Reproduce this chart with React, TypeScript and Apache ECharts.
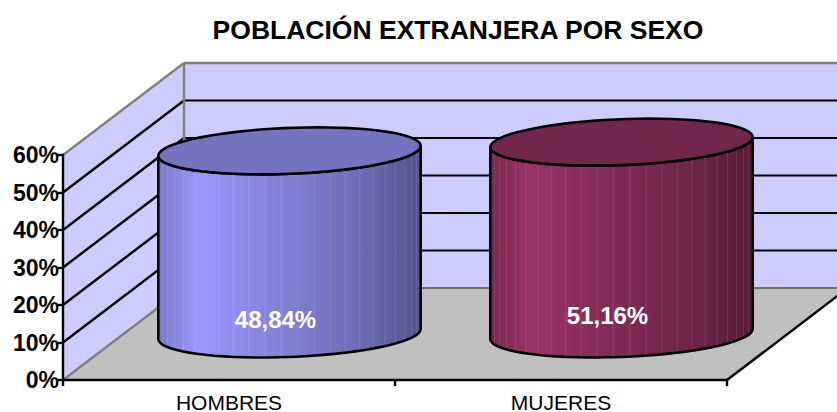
import React, { useEffect, useRef } from "react";
import * as echarts from "echarts";

const titleText = "POBLACIÓN EXTRANJERA POR SEXO";
const categories = ["HOMBRES", "MUJERES"];
const values = [48.84, 51.16];
const yTicks = [0, 10, 20, 30, 40, 50, 60];
const baseColors = ["#9999FF", "#993366"];

const FONT = "Liberation Sans, Arial, sans-serif";
const DEPTH_X = 121;
const DEPTH_Y = -92;

function shade(hex: string, f: number) {
  const n = parseInt(hex.slice(1), 16);
  const c = (v: number) => Math.round(v * f);
  return `rgb(${c((n >> 16) & 255)},${c((n >> 8) & 255)},${c(n & 255)})`;
}

function renderScene(params: any, api: any) {
  const cs = params.coordSys;
  const L = cs.x, R = cs.x + cs.width, B = cs.y + cs.height, T = cs.y;
  const poly = (points: number[][], fill: string) => ({ type: "polygon", shape: { points }, style: { fill, stroke: "none" } });
  const line = (a: number[], b: number[], stroke: string, lineWidth: number) => ({
    type: "line",
    shape: { x1: a[0], y1: a[1], x2: b[0], y2: b[1] },
    style: { stroke, lineWidth, fill: "none" },
  });
  const children: any[] = [
    poly([[L + DEPTH_X, T + DEPTH_Y], [R + DEPTH_X, T + DEPTH_Y], [R + DEPTH_X, B + DEPTH_Y], [L + DEPTH_X, B + DEPTH_Y]], "#CCCCFF"),
    poly([[L, T], [L + DEPTH_X, T + DEPTH_Y], [L + DEPTH_X, B + DEPTH_Y], [L, B]], "#CCCCFF"),
    poly([[L, B], [L + DEPTH_X, B + DEPTH_Y], [R + DEPTH_X, B + DEPTH_Y], [R, B]], "#C0C0C0"),
  ];
  yTicks.forEach((tick) => {
    if (tick === 0 || tick === yTicks[yTicks.length - 1]) return;
    const y = api.coord([0, tick])[1];
    children.push(line([L, y], [L + DEPTH_X, y + DEPTH_Y], "#000", 2.4));
    children.push(line([L + DEPTH_X, y + DEPTH_Y], [R + DEPTH_X, y + DEPTH_Y], "#000", 2.2));
  });
  children.push(line([L, T], [L + DEPTH_X, T + DEPTH_Y], "#808080", 2.4));
  children.push(line([L + DEPTH_X, T + DEPTH_Y], [R + DEPTH_X, T + DEPTH_Y], "#808080", 2.4));
  children.push(line([L + DEPTH_X, T + DEPTH_Y], [L + DEPTH_X, B + DEPTH_Y], "#808080", 2.4));
  children.push(line([L, B], [L + DEPTH_X, B + DEPTH_Y], "#808080", 2.4));
  children.push(line([L + DEPTH_X, B + DEPTH_Y], [R + DEPTH_X, B + DEPTH_Y], "#707070", 2));
  children.push(line([R, B], [R + DEPTH_X, B + DEPTH_Y], "#000", 2.4));
  return { type: "group", children };
}

function renderCylinder(params: any, api: any) {
  const cat = api.value(0);
  const val = api.value(1);
  const band = api.size([1, 0])[0];
  const a = band * 0.386;
  const vx = 28;
  const vy = -23.5;
  const base = api.coord([cat, 0]);
  const top = api.coord([cat, val]);
  const mx = DEPTH_X / 2, my = DEPTH_Y / 2;
  const cx = base[0] + mx;
  const yBase = base[1] + my;
  const yTop = top[1] + my;
  const P = (t: number, cy: number) => [cx + a * Math.cos(t) + vx * Math.sin(t), cy + vy * Math.sin(t)];
  const t0 = Math.atan2(vx, a);
  const N = 72;
  const topFull: number[][] = [];
  for (let i = 0; i < N; i++) topFull.push(P((i / N) * Math.PI * 2, yTop));
  const body: number[][] = [];
  for (let i = 0; i <= N / 2; i++) body.push(P(t0 - (i / (N / 2)) * Math.PI, yTop));
  for (let i = N / 2; i >= 0; i--) body.push(P(t0 - (i / (N / 2)) * Math.PI, yBase));
  const color = baseColors[params.dataIndex];
  const grad = new echarts.graphic.LinearGradient(0, 0, 1, 0, [
    { offset: 0, color: shade(color, 0.78) },
    { offset: 0.06, color: shade(color, 0.88) },
    { offset: 0.15, color: shade(color, 1) },
    { offset: 0.45, color: shade(color, 0.85) },
    { offset: 0.75, color: shade(color, 0.72) },
    { offset: 0.92, color: shade(color, 0.6) },
    { offset: 1, color: shade(color, 0.55) },
  ]);
  const children: any[] = [
    { type: "polygon", shape: { points: body }, style: { fill: grad, stroke: "none" } },
  ];
  const step = (7.2 * Math.PI) / 180;
  for (let t = t0 - step; t > t0 - Math.PI; t -= step) {
    const p1 = P(t, yTop), p2 = P(t, yBase);
    children.push({
      type: "line",
      shape: { x1: p1[0], y1: p1[1], x2: p2[0], y2: p2[1] },
      style: { stroke: "rgba(255,255,255,0.11)", lineWidth: 1, fill: "none" },
    });
  }
  children.push({ type: "polygon", shape: { points: body }, style: { fill: "none", stroke: "#000", lineWidth: 2.6 } });
  children.push({ type: "polygon", shape: { points: topFull }, style: { fill: shade(color, 0.75), stroke: "#000", lineWidth: 2.6 } });
  children.push({
    type: "text",
    style: {
      text: val.toFixed(2).replace(".", ",") + "%",
      x: cx - 14,
      y: api.coord([cat, val / 2])[1] + 31,
      fill: "#fff",
      font: `bold 24px ${FONT}`,
      textAlign: "center",
      textVerticalAlign: "middle",
    },
  });
  return { type: "group", children };
}

export default function App() {
  const ref = useRef<HTMLDivElement>(null);
  useEffect(() => {
    document.body.style.margin = "0";
    const chart = echarts.init(ref.current!, null, { renderer: "svg" });
    chart.setOption({
      animation: false,
      backgroundColor: "#fff",
      title: {
        text: titleText,
        left: 453,
        top: 11,
        textAlign: "center",
        textStyle: { fontFamily: FONT, fontSize: 26.5, fontWeight: "bold", color: "#000" },
      },
      grid: { left: 63, top: 155, width: 664, height: 225, outerBoundsMode: "none" },
      xAxis: {
        type: "category",
        data: categories,
        z: 5,
        axisLine: { lineStyle: { color: "#000", width: 2.4 } },
        axisTick: { show: true, length: 6, lineStyle: { color: "#000", width: 2.4 } },
        axisLabel: { fontFamily: FONT, fontSize: 21, lineHeight: 18, color: "#000", margin: 13 },
        splitLine: { show: false },
      },
      yAxis: {
        type: "value",
        min: 0,
        max: 60,
        interval: 10,
        z: 5,
        axisLine: { show: true, lineStyle: { color: "#000", width: 2.4 } },
        axisTick: { show: true, length: 5, lineStyle: { color: "#000", width: 2.4 } },
        axisLabel: { formatter: "{value}%", fontFamily: FONT, fontSize: 23, fontWeight: "bold", color: "#000", margin: 4 },
        splitLine: { show: false },
      },
      series: [
        { type: "custom", silent: true, z: 1, renderItem: renderScene, data: [[0, 0]], encode: { x: 0, y: 1 } },
        {
          type: "custom",
          silent: true,
          z: 2,
          renderItem: renderCylinder,
          data: categories.map((_, i) => [i, values[i]]),
          encode: { x: 0, y: 1 },
        },
      ],
    });
    return () => chart.dispose();
  }, []);
  return <div ref={ref} style={{ width: 837, height: 412 }} />;
}
